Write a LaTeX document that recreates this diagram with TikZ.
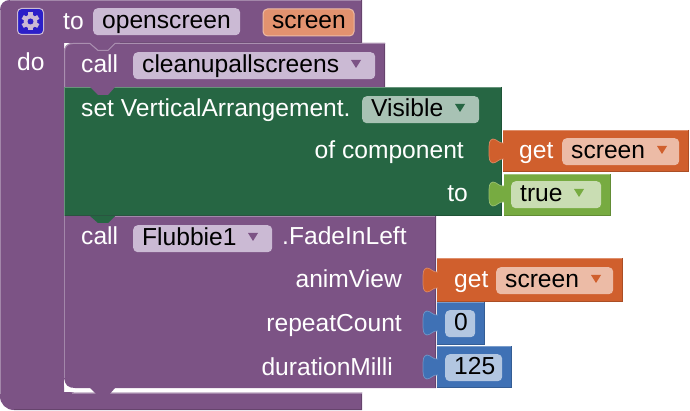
\documentclass[tikz,border=0pt]{standalone}
\usepackage{fontspec}
\setmainfont{Liberation Sans}
\usetikzlibrary{positioning,calc}
\definecolor{procPurple}{HTML}{7C5385}
\definecolor{procPurpleField}{HTML}{CBBAD4}
\definecolor{setGreen}{HTML}{266643}
\definecolor{setGreenField}{HTML}{A8C2B4}
\definecolor{getOrange}{HTML}{D05F2D}
\definecolor{getOrangeField}{HTML}{ECBBA6}
\definecolor{argOrangeField}{HTML}{E2926F}
\definecolor{logicGreen}{HTML}{77AB41}
\definecolor{logicGreenField}{HTML}{C9DDB3}
\definecolor{mathBlue}{HTML}{3F71B5}
\definecolor{mathBlueField}{HTML}{B2C6E1}
\definecolor{iconBlue}{HTML}{2C1FC8}
% flat block with a light top edge and a dark right and bottom edge
\newcommand{\blockbox}[5]{%
    \fill[#5] (#1,#2) rectangle (#3,#4);
    \draw[#5!70!white,line width=1pt] (#1,#2+0.5) -- (#3,#2+0.5);
    \draw[#5!82!black,line width=1pt] (#3-0.5,#2) -- (#3-0.5,#4-0.5) -- (#1,#4-0.5);
}
\begin{document}
\begin{tikzpicture}[
    x=1pt,y=-1pt,
    label/.style={font=\fontsize{24.6}{28}\selectfont,white,inner sep=0pt,anchor=base west},
    labelr/.style={label,anchor=base east},
    field/.style={rounded corners=4.5pt,anchor=north west,inner ysep=2pt,inner xsep=9pt,
        text height=18pt,text depth=5pt,align=left,text=black,
        font=\fontsize{24.6}{28}\selectfont},
    field_proc/.style={field,fill=procPurpleField},
    field_set/.style={field,fill=setGreenField},
    field_get/.style={field,fill=getOrangeField},
    field_logic/.style={field,fill=logicGreenField},
    field_math/.style={field,fill=mathBlueField},
]
\useasboundingbox (0,0) rectangle (690,411);

% === PROCEDURE HAT ===
\fill[procPurple] (0,10) .. controls (0,4) and (4,0) .. (10,0) -- (362,0) -- (362,43)
    -- (115,43) -- (108,50) -- (98,50) -- (90,43)
    -- (64,43) -- (64,392) -- (362,392) -- (362,410) -- (14,410)
    .. controls (6,410) and (0,404) .. (0,396) -- cycle;
\draw[procPurple!70!white,line width=1pt] (10,0.5) -- (362,0.5);
\draw[procPurple!70!white,line width=1pt] (0.5,10) -- (0.5,394);
\draw[procPurple!82!black,line width=1pt] (361.5,0) -- (361.5,42.5) -- (120,42.5);
\draw[procPurple!82!black,line width=1pt] (361.5,392) -- (361.5,409.5) -- (14,409.5);
\fill[white] (64,360) -- (64,384) .. controls (64,389) and (68,392.5) .. (74,392.5) -- (362,392.5) -- (362,360) -- cycle;
\draw[procPurple!70!white,line width=1pt] (72,393) -- (362,393);

% === CALL CLEANUP ===
\fill[procPurple] (64,87) -- (64,52) .. controls (64,47) and (67,43) .. (73,43) -- (90,43) -- (98,50) -- (108,50) -- (115,43)
    -- (385,43) -- (385,87) -- cycle;
\draw[procPurple!82!black,line width=1pt] (384.5,43) -- (384.5,87);
\draw[procPurple!65!white,line width=1pt] (64.5,87) -- (64.5,52) .. controls (64.5,47) and (67,43.5) .. (73,43.5) -- (90,43.5)
    -- (98,50.5) -- (108,50.5) -- (115,43.5) -- (385,43.5);

% === SET VISIBLE ===
\blockbox{64}{87}{502}{216}{setGreen}
\draw[setGreen!70!white,line width=1pt] (64.5,87) -- (64.5,216);
\fill[procPurple] (90,87) -- (98,95) -- (108,95) -- (115,87) -- cycle;

% === CALL FADE ===
\fill[procPurple] (64,216) -- (436,216) -- (436,388) -- (75,388) .. controls (68,388) and (65,385) .. (64,378) -- cycle;
\draw[procPurple!70!white,line width=1pt] (64.5,216) -- (64.5,378);
\draw[procPurple!70!white,line width=1pt] (115,216.5) -- (436,216.5);
\draw[procPurple!82!black,line width=1pt] (435.5,216) -- (435.5,388);
\fill[setGreen] (90,216) -- (98,223) -- (108,223) -- (115,216) -- cycle;
\fill[procPurple] (90,388) -- (98,396) -- (108,396) -- (115,388) -- cycle;

% === VALUE BLOCKS ===
\blockbox{503}{130}{689}{172}{getOrange}
\blockbox{504}{174}{611}{216}{logicGreen}
\blockbox{437}{258}{623}{302}{getOrange}
\blockbox{437}{302}{485}{345}{mathBlue}
\blockbox{437}{346}{512}{388}{mathBlue}

% Puzzle tabs
\foreach \tabx/\taby/\tabcol in {503/139/getOrange,503/182/logicGreen,437/268/getOrange,437/311/mathBlue,437/355/mathBlue}{
    \path[fill=\tabcol,draw=\tabcol!75!white,line width=0.7pt] (\tabx+1,\taby+4) .. controls (\tabx-4,\taby+5) and (\tabx-6,\taby) .. (\tabx-10,\taby)
        .. controls (\tabx-14,\taby+1) and (\tabx-14,\taby+4) .. (\tabx-14,\taby+12)
        .. controls (\tabx-14,\taby+20) and (\tabx-14,\taby+23) .. (\tabx-10,\taby+24)
        .. controls (\tabx-6,\taby+24) and (\tabx-4,\taby+19) .. (\tabx+1,\taby+20);
}

% === ICON ===
\node[fill=iconBlue,draw=procPurpleField,line width=1pt,rounded corners=4pt,minimum size=26pt,inner sep=0pt] (icon) at (30.5,21.5) {};
\foreach \gearangle in {0,60,...,300}{
    \fill[procPurpleField,rotate around={\gearangle:(icon.center)}] ($(icon.center)+(-2.2,-9)$) rectangle ($(icon.center)+(2.2,-5)$);
}
\fill[procPurpleField] (icon.center) circle (6.8pt);
\fill[iconBlue] (icon.center) circle (3pt);

% === TEXT AND FIELDS ===
\node[label] (to1) at (63,29.5) {to};
\node[field_proc,text width=129pt] (openscreen) at (93,8) {openscreen};
\node[field,fill=argOrangeField,draw=getOrangeField,line width=1pt,text width=73pt] (screen) at (262.5,8.5) {screen};
\node[label] (do1) at (17,71) {do};

\node[label] (call1) at (81,73) {call};
\node[field_proc,text width=224pt] (cleanup) at (133,52) {cleanupallscreens};

\node[label] (set1) at (81,116.5) {set VerticalArrangement.};
\node[field_set,text width=99pt] (visible) at (362,96) {Visible};
\node[labelr] (ofcomp) at (464,158.5) {of component};
\node[labelr] (to2) at (468,202) {to};

\node[label] (get1) at (519,158.5) {get};
\node[field_get,text width=99pt] (screen1) at (562,138) {screen};
\node[field_logic,text width=72pt] (true1) at (511,181) {true};

\node[label] (call2) at (81,245) {call};
\node[field_proc,text width=121pt] (flubbie) at (133,225) {Flubbie1};
\node[label] (fade) at (282,245) {.FadeInLeft};
\node[labelr] (anim) at (402,288) {animView};
\node[labelr] (repeat1) at (402,331) {repeatCount};
\node[labelr] (duration) at (393,375) {durationMilli};

\node[label] (get2) at (454,288) {get};
\node[field_get,text width=99pt] (screen2) at (496,267) {screen};
\node[field_math,text width=12pt] (zero) at (445,310) {0};
\node[field_math,text width=39pt] (num125) at (445,354) {125};

% Dropdown arrows
\foreach \arrx/\arry/\arrcol in {356/60/procPurple,460/104/setGreen,662/146/getOrange,579/189/logicGreen,253/233/procPurple,596/275/getOrange}{
    \fill[\arrcol] (\arrx-5,\arry) -- (\arrx+5,\arry) -- (\arrx,\arry+8) -- cycle;
}
\end{tikzpicture}
\end{document}
